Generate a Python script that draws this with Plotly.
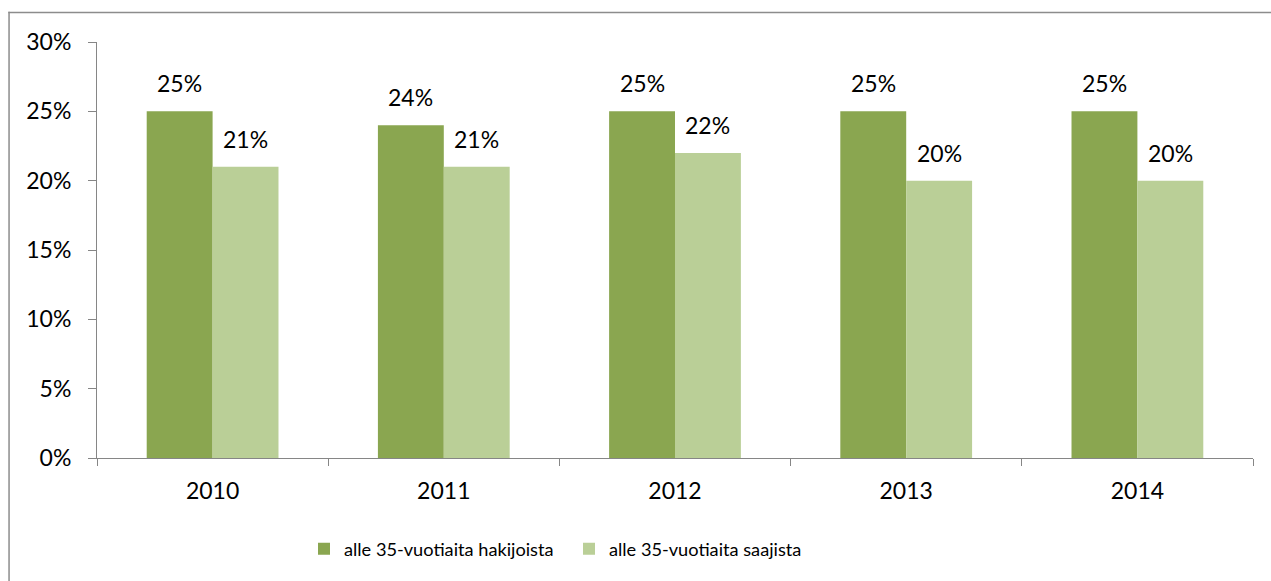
import plotly.graph_objects as go

# Data
years = ["2010", "2011", "2012", "2013", "2014"]
hakijoista = [0.25, 0.24, 0.25, 0.25, 0.25]
saajista = [0.21, 0.21, 0.22, 0.20, 0.20]
series_names = ["alle 35-vuotiaita hakijoista", "alle 35-vuotiaita saajista"]
y_ticks = [0, 0.05, 0.10, 0.15, 0.20, 0.25, 0.30]

DARK = "#8AA650"
LIGHT = "#BACF97"
AXIS = "#868686"
FONT = "Lato"

W, H = 1271, 581
# plot area in page pixels
X0, X1, Y0, Y1 = 97, 1253, 42, 458
BARGAP = 0.43

# page pixel -> paper fraction (margins are zero, so paper == page)
px = lambda p: p / W
py = lambda p: (H - p) / H

fig = go.Figure()
fig.add_bar(x=years, y=hakijoista, name=series_names[0], marker_color=DARK,
            marker_line_width=0)
fig.add_bar(x=years, y=saajista, name=series_names[1], marker_color=LIGHT,
            marker_line_width=0)

# Value labels above each bar (category index used as x position)
bar_w = (X1 - X0) / len(years) * (1 - BARGAP) / 2
for vals, shift in ((hakijoista, -bar_w / 2), (saajista, bar_w / 2)):
    for i, v in enumerate(vals):
        fig.add_annotation(x=i, y=v, xshift=shift, yshift=12,
                           text=f"{round(v * 100)}%", showarrow=False,
                           yanchor="bottom", xanchor="center",
                           font=dict(family=FONT, size=23, color="#000"))

# Outer chart border: top and left edges drawn as thin filled strips
EDGE = "#8C8C8C"
fig.add_shape(type="rect", xref="paper", yref="paper",
              x0=px(8.3), x1=1, y0=py(13.2), y1=py(11.7),
              fillcolor=EDGE, line_width=0, layer="above")
fig.add_shape(type="rect", xref="paper", yref="paper",
              x0=px(8.3), x1=px(9.8), y0=0, y1=py(11.7),
              fillcolor=EDGE, line_width=0, layer="above")

fig.update_layout(
    width=W, height=H,
    margin=dict(l=0, r=0, t=0, b=0),
    paper_bgcolor="white", plot_bgcolor="white",
    barmode="group", bargap=BARGAP, bargroupgap=0,
    font=dict(family=FONT, size=23, color="#000"),
    showlegend=True,
    legend=dict(orientation="h", x=px(304), xanchor="left",
                y=py(549), yanchor="middle",
                entrywidth=220, entrywidthmode="pixels",
                font=dict(family=FONT, size=18.2, color="#000"),
                bgcolor="rgba(0,0,0,0)", itemclick=False),
    xaxis=dict(type="category", range=[-0.5, len(years) - 0.5],
               domain=[px(X0), px(X1)], automargin=False,
               showline=True, linecolor=AXIS, linewidth=1,
               ticks="outside", tickson="boundaries", ticklen=7,
               tickcolor=AXIS, showgrid=False, zeroline=False,
               ticklabelstandoff=12,
               tickfont=dict(family=FONT, size=23, color="#000")),
    yaxis=dict(range=[0, 0.30], tickvals=y_ticks, tickformat=".0%",
               domain=[py(Y1), py(Y0)], automargin=False,
               showline=True, linecolor=AXIS, linewidth=1,
               ticks="outside", ticklen=8, tickcolor=AXIS,
               showgrid=False, zeroline=False,
               ticklabelstandoff=12,
               tickfont=dict(family=FONT, size=23, color="#000")),
)

fig.write_html("out.html", config={"displayModeBar": False})
